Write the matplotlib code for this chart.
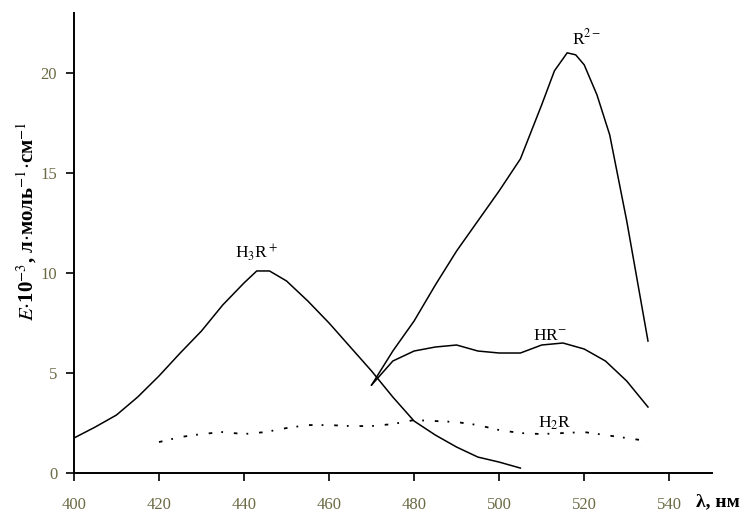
import matplotlib
matplotlib.use('Agg')
import matplotlib.pyplot as plt

plt.rcParams['font.family'] = ['Liberation Serif', 'DejaVu Serif']
plt.rcParams['mathtext.fontset'] = 'stix'

# Спектры поглощения
h3r_x = [400, 405, 410, 415, 420, 425, 430, 435, 440, 443, 446, 450, 455, 460, 465, 470, 475, 480, 485, 490, 495, 500, 505]
h3r_y = [1.75, 2.3, 2.9, 3.8, 4.85, 6.0, 7.1, 8.4, 9.5, 10.1, 10.1, 9.6, 8.6, 7.5, 6.3, 5.1, 3.8, 2.6, 1.9, 1.3, 0.8, 0.55, 0.25]

r_x = [470, 475, 480, 485, 490, 495, 500, 505, 510, 513, 516, 518, 520, 523, 526, 530, 533, 535]
r_y = [4.4, 6.1, 7.6, 9.4, 11.1, 12.6, 14.1, 15.7, 18.4, 20.1, 21.0, 20.9, 20.4, 18.9, 16.9, 12.6, 9.0, 6.6]

hr_x = [470, 475, 480, 485, 490, 495, 500, 505, 510, 515, 520, 525, 530, 535]
hr_y = [4.4, 5.6, 6.1, 6.3, 6.4, 6.1, 6.0, 6.0, 6.4, 6.5, 6.2, 5.6, 4.6, 3.3]

h2r_x = [420, 425, 430, 435, 440, 445, 450, 455, 460, 465, 470, 475, 480, 485, 490, 495, 500, 505, 510, 515, 520, 525, 530, 535]
h2r_y = [1.55, 1.8, 1.95, 2.05, 1.95, 2.05, 2.25, 2.4, 2.4, 2.35, 2.35, 2.45, 2.65, 2.6, 2.55, 2.4, 2.15, 2.0, 1.95, 2.0, 2.05, 1.9, 1.75, 1.6]

xticks = [400, 420, 440, 460, 480, 500, 520, 540]
yticks = [0, 5, 10, 15, 20]

fig = plt.figure(figsize=(7.54, 5.12), dpi=100)
ax = fig.add_axes([0.098, 0.076, 0.846, 0.899])

ax.plot(h3r_x, h3r_y, color='black', lw=1.1)
ax.plot(r_x, r_y, color='black', lw=1.1)
ax.plot(hr_x, hr_y, color='black', lw=1.1)
ax.plot(h2r_x, h2r_y, color='black', lw=1.3, linestyle=(0, (2, 5, 1, 6)))

# Подписи кривых
ax.text(443, 10.5, r'H$_3$R$^+$', fontsize=12.5, ha='center', va='bottom')
ax.text(520.5, 21.2, r'R$^{2-}$', fontsize=12.5, ha='center', va='bottom')
ax.text(512, 6.45, r'HR$^{-}$', fontsize=12.5, ha='center', va='bottom')
ax.text(513, 2.05, r'H$_2$R', fontsize=12.5, ha='center', va='bottom')

ax.set_xlim(400, 550)
ax.set_ylim(0, 23)
ax.set_xticks(xticks)
ax.set_yticks(yticks)
ax.spines['top'].set_visible(False)
ax.spines['right'].set_visible(False)
ax.spines['left'].set_linewidth(1.4)
ax.spines['bottom'].set_linewidth(1.4)
ax.tick_params(direction='out', length=6, width=1.2, labelsize=12, labelcolor='#6b6a45')
ax.tick_params(axis='x', pad=11)
ax.tick_params(axis='y', pad=6)

fig.text(0.036, 0.568, r'$\it{E}$$\cdot$10$^{-3}$, л$\cdot$моль$^{-1}$$\cdot$см$^{-1}$', fontsize=15,
         fontweight='bold', rotation=90, ha='center', va='center')
ax.text(546.3, -1.45, r'λ, нм', fontsize=14, fontweight='bold', ha='left', va='center')

plt.savefig('out.png', dpi=100)
